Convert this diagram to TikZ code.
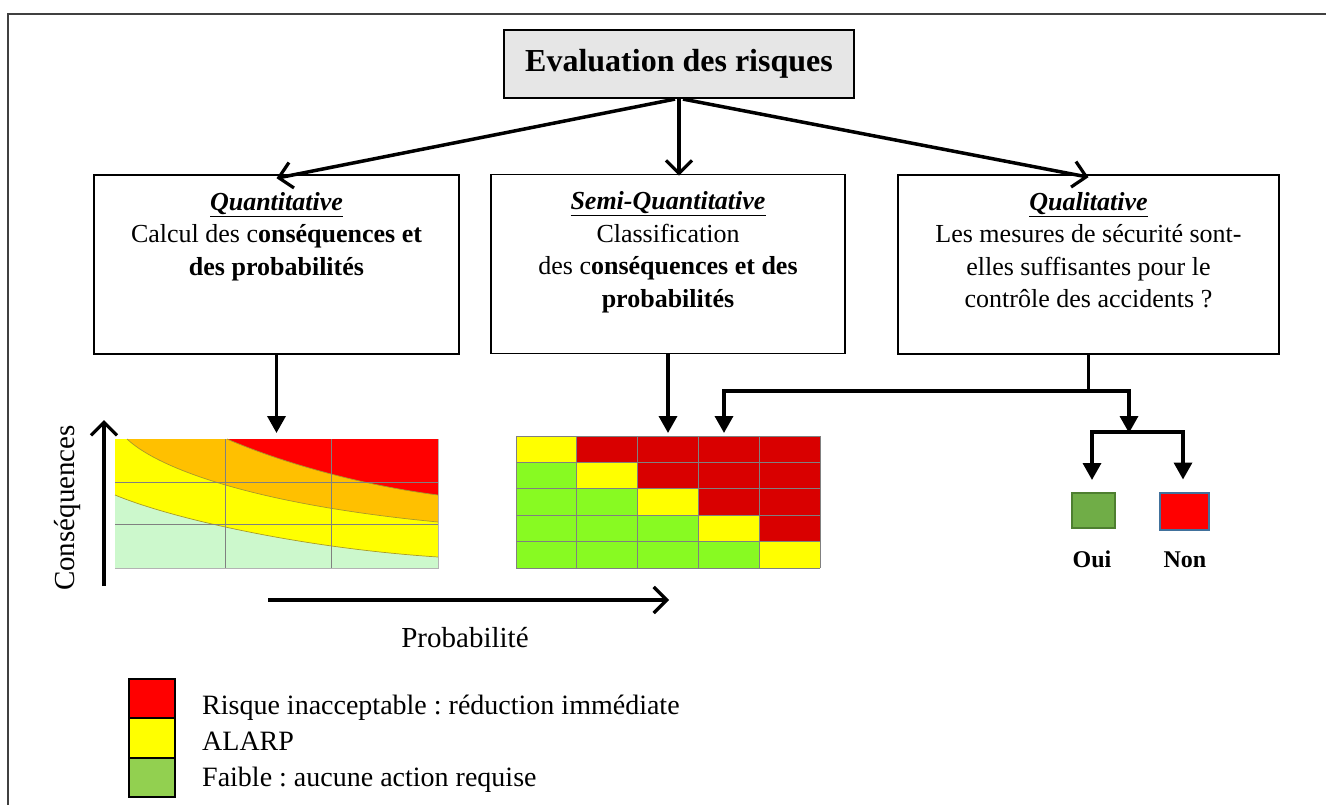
\documentclass[tikz,border=0pt]{standalone}
\usepackage{fontspec}
\setmainfont{Liberation Serif}
\usetikzlibrary{arrows.meta,calc}
\frenchspacing

\definecolor{framegray}{HTML}{404040}
\definecolor{titlegray}{HTML}{E6E6E6}
\definecolor{qgreen}{HTML}{CCF8CC}
\definecolor{qyellow}{HTML}{FFFF00}
\definecolor{qorange}{HTML}{FFC000}
\definecolor{qred}{HTML}{FF0000}
\definecolor{qline}{HTML}{A89A2A}
\definecolor{qgrid}{HTML}{808080}
\definecolor{sy}{HTML}{FFFF00}
\definecolor{sr}{HTML}{D90000}
\definecolor{sg}{HTML}{88FA22}
\definecolor{sgrid}{HTML}{808080}
\definecolor{lgreen}{HTML}{92D050}
\definecolor{ouigreen}{HTML}{70AD47}
\definecolor{ouiedge}{HTML}{4E7F30}
\definecolor{nonedge}{HTML}{41719C}

\begin{document}
\begin{tikzpicture}[x=1pt,y=-1pt,
  frame/.style={line width=2pt,draw=framegray},
  titlebox/.style={draw=black,line width=2.2pt,fill=titlegray,
    minimum width=350pt,minimum height=68pt,inner sep=0pt,
    font=\fontsize{32}{36}\selectfont\bfseries},
  methodbox/.style={draw=black,line width=1.6pt,minimum height=179pt,inner sep=0pt},
  boxtext/.style={align=center,inner sep=0pt,anchor=north,
    font=\fontsize{26}{32.5}\selectfont},
  link/.style={line width=3.5pt,line cap=butt},
  openarrow/.style={link,-{Straight Barb[length=13pt,width=26pt,line width=3.2pt]}},
  fillarrow/.style={link,-{Triangle[length=17pt,width=18pt]}},
  choicelabel/.style={anchor=base,inner sep=0pt,font=\fontsize{24}{28}\selectfont\bfseries},
  legendbox/.style={draw=black,line width=1.6pt,minimum width=46pt,minimum height=39.5pt,inner sep=0pt},
  legendtext/.style={anchor=base west,inner sep=0pt,font=\fontsize{28}{32}\selectfont},
  axislabel/.style={inner sep=0pt,font=\fontsize{29}{32}\selectfont}
]
\useasboundingbox (0,0) rectangle (1326,805);

% outer frame (top and left edges)
\draw[frame] (8,805) -- (8,14) -- (1326,14);

% title
\node[titlebox] (title) at (679,64) {Evaluation des risques};

% the three methods
\node[methodbox,minimum width=365pt] (b1) at (276.5,264.5) {};
\node[methodbox,minimum width=354pt] (b2) at (668,264) {};
\node[methodbox,minimum width=381pt] (b3) at (1088.5,264.5) {};

\node[boxtext] (t1) at ([yshift=-18pt]b1.north)
  {\underline{\textbf{\textit{Quantitative}}}\\
   Calcul des c\textbf{onséquences et}\\
   \textbf{des probabilités}};
\node[boxtext] (t2) at ([yshift=-18pt]b2.north)
  {\underline{\textbf{\textit{Semi-Quantitative}}}\\
   Classification\\
   des c\textbf{onséquences et des}\\
   \textbf{probabilités}};
\node[boxtext] (t3) at ([yshift=-18pt]b3.north)
  {\underline{\textbf{\textit{Qualitative}}}\\
   Les mesures de sécurité sont-\\
   elles suffisantes pour le\\
   contrôle des accidents ?};

% title to methods
\draw[openarrow] ([xshift=-4pt]title.south) -- ([yshift=-4pt]b1.north);
\draw[openarrow] (title.south) -- ([yshift=-2pt]title.south |- b2.north);
\draw[openarrow] ([xshift=4pt]title.south) -- ([yshift=-3pt]b3.north);

% quantitative chart: risk bands
\fill[qgreen] (115,439) rectangle (438,568);
\fill[qyellow] (115,439) -- (438,439) -- (438,557)
  .. controls (300,548) and (170,518) .. (115,495) -- cycle;
\fill[qorange] (127,439) -- (438,439) -- (438,522)
  .. controls (260,505) and (160,470) .. (127,439) -- cycle;
\fill[qred] (227,439) -- (438,439) -- (438,495)
  .. controls (360,485) and (280,462) .. (227,439) -- cycle;
\draw[qline,line width=0.7pt] (115,495) .. controls (170,518) and (300,548) .. (438,557);
\draw[qline,line width=0.7pt] (127,439) .. controls (160,470) and (260,505) .. (438,522);
\draw[qline,line width=0.7pt] (227,439) .. controls (280,462) and (360,485) .. (438,495);
\draw[qgrid,line width=1pt] (225,439) -- (225,568) (331,439) -- (331,568)
  (115,482) -- (438,482) (115,524) -- (438,524);
\draw[qgrid!60,line width=0.8pt] (438,439) -- (438,568) -- (115,568);

% semi-quantitative matrix
\foreach \r in {0,...,4}{
  \foreach \c in {0,...,4}{
    \ifnum\c=\r \def\cellcol{sy}\else\ifnum\c>\r \def\cellcol{sr}\else\def\cellcol{sg}\fi\fi
    \fill[\cellcol] (516+\c*60.8,436+\r*26.4) rectangle ++(60.8,26.4);
  }
}
\foreach \k in {0,...,5}{
  \draw[sgrid,line width=0.8pt] (516+\k*60.8,436) -- (516+\k*60.8,568);
  \draw[sgrid,line width=0.8pt] (516,436+\k*26.4) -- (820,436+\k*26.4);
}

% methods to results
\coordinate (chartTop) at (0,433);
\draw[fillarrow] (b1.south) -- (b1.south |- chartTop);
\draw[fillarrow] (b2.south) -- (b2.south |- chartTop);

\coordinate (hl) at (724,391);
\coordinate (hr) at (1129,391);
\coordinate (split) at (1129,433);
\coordinate (sl) at (1092,432);
\coordinate (sr) at (1183,432);
\draw[link] (b3.south) -- (b3.south |- hl);
\draw[link] ([xshift=-1.75pt]hl) -- ([xshift=1.75pt]hr);
\draw[fillarrow] (hl) -- (hl |- chartTop);
\draw[fillarrow] ([yshift=2pt]hr) -- (split);
\draw[link] ([xshift=-1.75pt]sl) -- ([xshift=1.75pt]sr);

\node[draw=ouiedge,fill=ouigreen,line width=2pt,minimum width=43pt,minimum height=35pt,inner sep=0pt]
  (oui) at (1093.5,510.5) {};
\node[draw=nonedge,fill=qred,line width=2pt,minimum width=49pt,minimum height=37pt,inner sep=0pt]
  (non) at (1184.5,511) {};
\draw[fillarrow] (sl) -- ([yshift=12pt]sl |- oui.north);
\draw[fillarrow] (sr) -- ([yshift=12pt]sr |- non.north);
\node[choicelabel] (ouilabel) at (1092,567) {Oui};
\node[choicelabel] (nonlabel) at (1185,567) {Non};

% axes
\coordinate (ya0) at (104,586);
\coordinate (ya1) at (104,420);
\coordinate (xa0) at (268,600);
\coordinate (xa1) at (669,600);
\draw[openarrow] (ya0) -- (ya1);
\draw[openarrow] (xa0) -- (xa1);
\node[axislabel,rotate=90] (ylab) at (68,508) {Conséquences};
\node[axislabel] (xlab) at (465,638) {Probabilité};

% legend
\node[legendbox,fill=qred] (lr) at (152,698.5) {};
\node[legendbox,fill=qyellow] (ly) at (152,738) {};
\node[legendbox,fill=lgreen] (lg) at (152,777.5) {};
\node[legendtext] (lrt) at (202,714) {Risque inacceptable : réduction immédiate};
\node[legendtext] (lyt) at (202,750) {ALARP};
\node[legendtext] (lgt) at (202,786) {Faible : aucune action requise};
\end{tikzpicture}
\end{document}
